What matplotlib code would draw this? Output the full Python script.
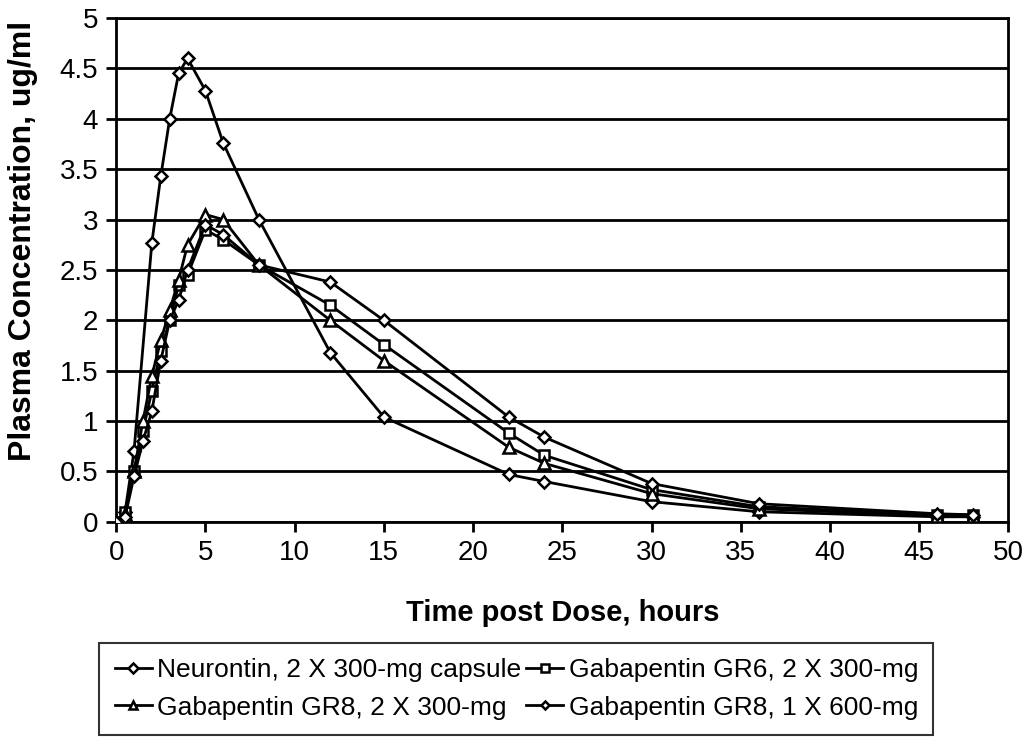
import matplotlib
matplotlib.use("Agg")
import matplotlib.pyplot as plt

plt.rcParams['font.family'] = ['Liberation Sans', 'DejaVu Sans']

# Data
t_neu = [0, 0.5, 1, 2, 2.5, 3, 3.5, 4, 5, 6, 8, 12, 15, 22, 24, 30, 36, 46, 48]
c_neu = [0, 0.1, 0.7, 2.77, 3.43, 4.0, 4.45, 4.6, 4.28, 3.76, 3.0, 1.68, 1.04, 0.47, 0.4, 0.2, 0.1, 0.05, 0.05]

t_gr = [0, 0.5, 1, 1.5, 2, 2.5, 3, 3.5, 4, 5, 6, 8, 12, 15, 22, 24, 30, 36, 46, 48]
c_gr6 = [0, 0.1, 0.5, 0.9, 1.3, 1.7, 2.0, 2.35, 2.45, 2.9, 2.8, 2.55, 2.15, 1.76, 0.88, 0.66, 0.32, 0.15, 0.07, 0.07]
c_gr8_2x300 = [0, 0.08, 0.5, 1.0, 1.45, 1.8, 2.1, 2.4, 2.75, 3.05, 3.0, 2.55, 2.0, 1.6, 0.74, 0.58, 0.28, 0.13, 0.06, 0.06]
c_gr8_1x600 = [0, 0.05, 0.45, 0.8, 1.1, 1.6, 2.0, 2.2, 2.5, 2.95, 2.85, 2.55, 2.38, 2.0, 1.04, 0.84, 0.38, 0.18, 0.08, 0.07]

labels = ["Neurontin, 2 X 300-mg capsule", "Gabapentin GR6, 2 X 300-mg",
          "Gabapentin GR8, 2 X 300-mg", "Gabapentin GR8, 1 X 600-mg"]
x_ticks = [0, 5, 10, 15, 20, 25, 30, 35, 40, 45, 50]
y_ticks = [0, 0.5, 1, 1.5, 2, 2.5, 3, 3.5, 4, 4.5, 5]
y_ticklabels = ["0", "0.5", "1", "1.5", "2", "2.5", "3", "3.5", "4", "4.5", "5"]

fig = plt.figure(figsize=(10.28, 7.53), dpi=100)
ax = fig.add_axes([0.113, 0.307, 0.868, 0.669])

series = [(t_neu, c_neu, 'D', 6.5), (t_gr, c_gr6, 's', 7),
          (t_gr, c_gr8_2x300, '^', 8), (t_gr, c_gr8_1x600, 'D', 6)]
handles = []
for (t, c, m, ms), lab in zip(series, labels):
    h, = ax.plot(t, c, color='black', lw=2, marker=m, markersize=ms,
                 markerfacecolor='white', markeredgecolor='black',
                 markeredgewidth=1.8, label=lab, zorder=3)
    handles.append(h)

ax.set_xlim(0, 50)
ax.set_ylim(0, 5)
ax.set_xticks(x_ticks)
ax.set_yticks(y_ticks)
ax.set_yticklabels(y_ticklabels)
ax.yaxis.grid(True, color='black', lw=2)
ax.set_axisbelow(True)
for s in ax.spines.values():
    s.set_linewidth(2)
ax.tick_params(axis='both', direction='out', length=7, width=2,
               labelsize=20, pad=6)
ax.set_xlabel("Time post Dose, hours", fontsize=21, fontweight='bold', labelpad=24)
ax.set_ylabel("Plasma Concentration, ug/ml", fontsize=23, fontweight='bold')
ax.yaxis.set_label_coords(-0.088, 0.557)

order = [0, 2, 1, 3]
leg = fig.legend(handles=[handles[i] for i in order],
                 labels=[labels[i] for i in order],
                 loc='center', bbox_to_anchor=(0.5024, 0.0850),
                 ncol=2, fontsize=19, frameon=True, fancybox=False,
                 edgecolor='black', handlelength=1.4, handletextpad=0.2,
                 columnspacing=0.2, borderpad=0.58, labelspacing=0.5,
                 borderaxespad=0, markerscale=0.75)
leg.get_frame().set_linewidth(1.5)

fig.savefig("out.png", dpi=100)
